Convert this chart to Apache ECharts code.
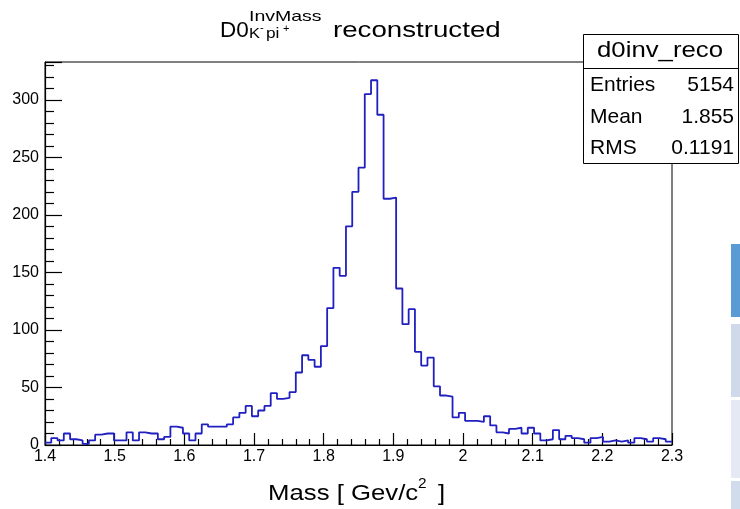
<!DOCTYPE html>
<html>
<head>
<meta charset="utf-8">
<script src="https://cdn.jsdelivr.net/npm/echarts@6/dist/echarts.min.js"></script>
<style>
  html, body { margin: 0; padding: 0; background: #fff; }
  #chart { width: 740px; height: 509px; }
</style>
</head>
<body>
<div id="chart"></div>
<script>
// Histogram binning: 100 bins over the K- pi+ invariant mass window
const massMin = 1.4;
const massMax = 2.3;
const nBins = 100;

// Bin contents, low mass to high mass
const counts = [
  2, 6, 4, 10, 5, 4, 1, 4, 9, 10,
  10, 4, 4, 11, 4, 11, 10, 10, 5, 7,
  16, 15, 10, 4, 10, 18, 16, 16, 16, 18,
  24, 28, 34, 25, 30, 34, 45, 40, 41, 46,
  63, 78, 74, 68, 86, 119, 154, 147, 190, 220,
  241, 305, 317, 287, 214, 215, 136, 105, 118, 81,
  69, 76, 51, 43, 42, 24, 28, 21, 21, 20,
  25, 17, 11, 10, 14, 15, 10, 15, 10, 4,
  5, 13, 5, 8, 6, 5, 2, 6, 7, 3,
  4, 3, 4, 2, 6, 5, 3, 6, 5, 3
];

// Statistics box
const statsName = 'd0inv_reco';
const statsLabels = ['Entries', 'Mean', 'RMS'];
const statsValues = ['5154', '1.855', '0.1191'];

const xInterval = 0.1;
const yInterval = 50;

// Step outline: one point per bin low edge, plus the closing upper edge
const binWidth = (massMax - massMin) / nBins;
const outline = counts.map((c, i) => [massMin + i * binWidth, c]);
outline.push([massMax, counts[counts.length - 1]]);
const yMax = Math.max(...counts) * 1.05;

const FONT = '"Liberation Sans", Arial, Helvetica, sans-serif';
const BLUE = '#2020c0';

function txt(text, x, y, size, scaleX, align) {
  return {
    type: 'text', x: x, y: y, scaleX: scaleX || 1, z: 10,
    style: {
      text: text, x: 0, y: 0,
      font: size + 'px ' + FONT,
      fill: '#000',
      textAlign: align || 'left',
      textVerticalAlign: 'middle'
    }
  };
}

const statsTop = 34, statsLeft = 583, statsRight = 738, statsBottom = 163;
const rowY = [85, 117, 148];

const graphics = [
  // Title: D0 with InvMass superscript and K- pi+ subscript
  txt('D0', 220, 30.5, 22.5, 1),
  txt('InvMass', 249, 16.5, 15, 1.3),
  txt('K', 249, 33.5, 15, 1.1),
  txt('-', 260, 28, 10, 1.1),
  txt('pi', 266, 33.5, 15, 1.15),
  txt('+', 283, 29, 10, 1.1),
  txt('reconstructed', 333, 30.5, 22.5, 1.23),
  // Axis title
  txt('Mass [ Gev/c', 268, 494, 22, 1.17),
  txt('2', 418, 484, 14, 1.1),
  txt(']', 438, 494, 22, 1.17),
  // Statistics box
  {
    type: 'rect', z: 9,
    shape: { x: statsLeft + 0.5, y: statsTop + 0.5, width: statsRight - statsLeft, height: statsBottom - statsTop },
    style: { fill: '#fff', stroke: '#000', lineWidth: 1 }
  },
  {
    type: 'line', z: 10,
    shape: { x1: statsLeft + 0.5, y1: 68.5, x2: statsRight + 0.5, y2: 68.5 },
    style: { stroke: '#000', lineWidth: 1 }
  },
  txt(statsName, 660, 51, 22, 1.17, 'center')
];
statsLabels.forEach((s, i) => {
  graphics.push(txt(s, 590, rowY[i], 21, 1, 'left'));
  graphics.push(txt(statsValues[i], 734, rowY[i], 21, 1, 'right'));
});
// Side tab strip at the right edge of the window
[[244, 317, '#5b9bd5'], [324, 397, '#cfd9ea'], [400, 478, '#e4e9f3'], [481, 509, '#d0dbeb']]
  .forEach(b => graphics.push({
    type: 'rect', z: 8,
    shape: { x: 731, y: b[0], width: 9, height: b[1] - b[0] },
    style: { fill: b[2] }
  }));

const chart = echarts.init(document.getElementById('chart'), null, { renderer: 'canvas' });
chart.setOption({
  animation: false,
  backgroundColor: '#fff',
  grid: {
    left: 45, top: 62, width: 627, height: 383,
    show: true, borderColor: '#000', borderWidth: 1, backgroundColor: 'transparent',
    containLabel: false
  },
  xAxis: {
    type: 'value', min: massMin, max: massMax, interval: xInterval,
    axisLine: { show: true, lineStyle: { color: '#000', width: 1.2 } },
    axisTick: { show: true, inside: true, length: 12, lineStyle: { color: '#000', width: 1.2 } },
    minorTick: { show: true, splitNumber: 5, length: 6, lineStyle: { color: '#000', width: 1.2 } },
    splitLine: { show: false },
    axisLabel: {
      margin: 4, color: '#000', fontSize: 16, fontFamily: FONT,
      formatter: v => String(Math.round(v * 10) / 10)
    }
  },
  yAxis: {
    type: 'value', min: 0, max: yMax, interval: yInterval,
    axisLine: { show: true, lineStyle: { color: '#000', width: 1.2 } },
    axisTick: { show: true, inside: true, length: 17, lineStyle: { color: '#000', width: 1.2 } },
    minorTick: { show: true, splitNumber: 5, length: 9, lineStyle: { color: '#000', width: 1.2 } },
    splitLine: { show: false },
    axisLabel: {
      margin: 6, color: '#000', fontSize: 16, fontFamily: FONT,
      showMaxLabel: false
    }
  },
  series: [{
    type: 'line',
    step: 'end',
    data: outline,
    symbol: 'none',
    clip: true,
    lineStyle: { color: BLUE, width: 1.8 }
  }],
  graphic: graphics
});
</script>
</body>
</html>
